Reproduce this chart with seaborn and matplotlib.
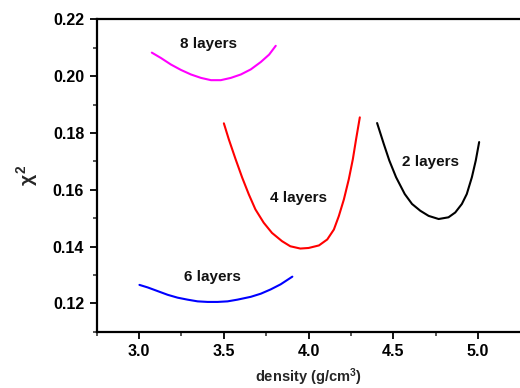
import matplotlib
matplotlib.use("Agg")
import matplotlib.pyplot as plt
from matplotlib.ticker import MultipleLocator
import seaborn as sns
import pandas as pd

# chi-square vs. density for films with different layer counts
density_2 = [4.404, 4.443, 4.476, 4.516, 4.567, 4.610, 4.659, 4.708, 4.767,
             4.825, 4.865, 4.904, 4.933, 4.963, 4.986, 5.006]
chi2_2 = [0.1835, 0.1762, 0.1703, 0.1644, 0.1585, 0.1550, 0.1526, 0.1508, 0.1497,
          0.1503, 0.1520, 0.1550, 0.1585, 0.1644, 0.1703, 0.1768]

density_4 = [3.500, 3.529, 3.569, 3.608, 3.647, 3.686, 3.735, 3.784, 3.843, 3.892, 3.951,
             4.000, 4.061, 4.110, 4.149, 4.178, 4.208, 4.237, 4.261, 4.280, 4.302]
chi2_4 = [0.1834, 0.1778, 0.1708, 0.1643, 0.1584, 0.1531, 0.1484, 0.1448, 0.1419, 0.1401, 0.1393,
          0.1395, 0.1404, 0.1425, 0.1460, 0.1507, 0.1566, 0.1637, 0.1708, 0.1778, 0.1855]

density_6 = [3.002, 3.051, 3.110, 3.169, 3.227, 3.286, 3.345, 3.404, 3.463,
             3.522, 3.580, 3.659, 3.718, 3.776, 3.835, 3.904]
chi2_6 = [0.1265, 0.1256, 0.1243, 0.1230, 0.1220, 0.1213, 0.1207, 0.1205, 0.1205,
          0.1207, 0.1213, 0.1223, 0.1234, 0.1249, 0.1267, 0.1294]

density_8 = [3.075, 3.129, 3.188, 3.247, 3.306, 3.365, 3.424, 3.482, 3.541,
             3.600, 3.659, 3.718, 3.767, 3.806]
chi2_8 = [0.2083, 0.2064, 0.2041, 0.2022, 0.2006, 0.1994, 0.1986, 0.1986, 0.1994,
          0.2006, 0.2024, 0.2050, 0.2076, 0.2107]

series_labels = ["2 layers", "4 layers", "6 layers", "8 layers"]
series_colors = ["#000000", "#FF0000", "#0000FF", "#FF00FF"]
label_pos = [(4.72, 0.1699), (3.94, 0.1572), (3.43, 0.1294), (3.41, 0.2113)]

x_ticks = [3.0, 3.5, 4.0, 4.5, 5.0]
y_ticks = [0.12, 0.14, 0.16, 0.18, 0.20, 0.22]

frames = []
for lab, xs, ys in zip(series_labels,
                       [density_2, density_4, density_6, density_8],
                       [chi2_2, chi2_4, chi2_6, chi2_8]):
    frames.append(pd.DataFrame({"density": xs, "chi2": ys, "layers": lab}))
df = pd.concat(frames, ignore_index=True)

sns.set_theme(style="white")
plt.rcParams["font.family"] = ["Liberation Sans", "DejaVu Sans"]
plt.rcParams["font.weight"] = "bold"
plt.rcParams["mathtext.fontset"] = "custom"
plt.rcParams["mathtext.rm"] = "Liberation Sans:bold"
plt.rcParams["mathtext.it"] = "Liberation Sans:bold"

fig = plt.figure(figsize=(5.2, 3.88), dpi=100)
ax = fig.add_axes([0.186, 0.145, 0.815, 0.805])

sns.lineplot(data=df, x="density", y="chi2", hue="layers",
             palette=dict(zip(series_labels, series_colors)),
             sort=False, estimator=None, linewidth=1.5, legend=False, ax=ax)

for lab, (tx, ty) in zip(series_labels, label_pos):
    ax.text(tx, ty, lab, ha="center", va="center", fontsize=11,
            fontweight="bold", color="#111111")

ax.set_xlim(2.75, 5.25)
ax.set_ylim(0.11, 0.22)
ax.set_xticks(x_ticks)
ax.set_yticks(y_ticks)
ax.set_xticklabels([f"{v:.1f}" for v in x_ticks])
ax.set_yticklabels([f"{v:.2f}" for v in y_ticks])
ax.xaxis.set_minor_locator(MultipleLocator(0.25))
ax.yaxis.set_minor_locator(MultipleLocator(0.01))

ax.tick_params(axis="both", which="major", direction="out", length=5, width=1.3,
               labelsize=11.5, colors="#000000", pad=4)
ax.tick_params(axis="both", which="minor", direction="out", length=3, width=1.1)
ax.tick_params(bottom=True, left=True, top=False, right=False, which="both")
for lbl in ax.get_xticklabels() + ax.get_yticklabels():
    lbl.set_fontweight("bold")

for side in ["left", "top", "bottom"]:
    ax.spines[side].set_visible(True)
    ax.spines[side].set_color("#000000")
    ax.spines[side].set_linewidth(1.6)
ax.spines["right"].set_visible(False)

ax.set_xlabel("density (g/cm$^3$)", fontsize=10.5, fontweight="bold", labelpad=5)
ax.set_ylabel(r"$\chi^2$", fontsize=14, fontweight="bold", labelpad=9)
ax.grid(False)

fig.savefig("out.png", dpi=100)
